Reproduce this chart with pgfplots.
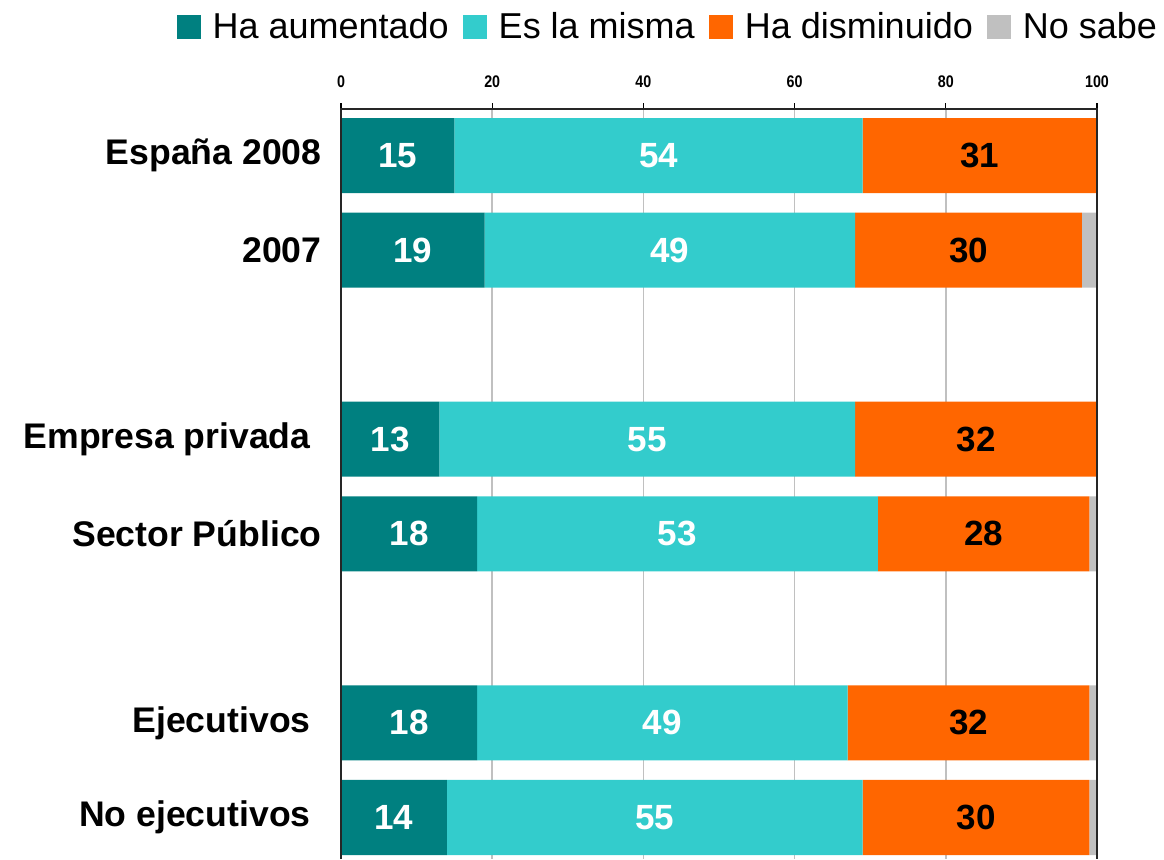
\documentclass[border=0pt]{standalone}
\usepackage{fontspec}
\setmainfont{Liberation Sans}
\usepackage{graphicx}
\usepackage{pgfplots}
\pgfplotsset{compat=1.18}
\definecolor{cteal}{HTML}{008080}
\definecolor{ccyan}{HTML}{33CCCC}
\definecolor{corange}{HTML}{FF6600}
\definecolor{cgray}{HTML}{C0C0C0}
\begin{document}
\begin{tikzpicture}
\begin{axis}[
  scale only axis, width=378pt, height=375pt,
  at={(170.5pt,0pt)}, anchor=south west,
  xbar stacked, bar width=37.5pt,
  legend image code/.code={\fill[#1] (0pt,-6pt) rectangle (12pt,6pt);},
  xmin=0, xmax=100, ymin=-0.492, ymax=7.439, y dir=reverse,
  axis line style={draw=none},
  xtick={0,20,40,60,80,100}, xtick pos=upper, xticklabel pos=upper,
  xtick align=outside, major tick length=3pt,
  tick style={black, line width=0.6pt},
  /pgf/number format/assume math mode=true,
  xticklabel={\scalebox{0.85}[1]{\pgfmathprintnumber{\tick}}},
  xticklabel style={font=\bfseries\fontsize{8.4}{10}\selectfont, inner sep=0pt, yshift=7.5pt},
  ytick={0,1,3,4,6,7},
  yticklabels={España 2008, 2007, Empresa privada\hspace*{5.5pt}, Sector Público, Ejecutivos\hspace*{5.5pt}, No ejecutivos\hspace*{5.5pt}},
  ytick style={draw=none},
  yticklabel style={font=\bfseries\fontsize{17.8}{20}\selectfont, inner sep=0pt, xshift=-9.5pt},
  xmajorgrids, grid style={cgray, line width=0.75pt},
  nodes near coords style={anchor=center, font=\bfseries\fontsize{17.5}{20}\selectfont},
  legend style={draw=none, fill=none, at={(-0.218,1.109)}, anchor=west, legend columns=-1, inner sep=0pt,
    font=\fontsize{18}{20}\selectfont,
    /tikz/every odd column/.append style={column sep=4pt},
    /tikz/every even column/.append style={column sep=5pt}},
]
\addplot[fill=cteal, draw=none, nodes near coords, every node near coord/.append style={text=white}]
  coordinates {(15,0) (19,1) (13,3) (18,4) (18,6) (14,7)};
\addlegendentry{Ha aumentado}
\addplot[fill=ccyan, draw=none, nodes near coords, every node near coord/.append style={text=white}]
  coordinates {(54,0) (49,1) (55,3) (53,4) (49,6) (55,7)};
\addlegendentry{Es la misma}
\addplot[fill=corange, draw=none, nodes near coords, every node near coord/.append style={text=black}]
  coordinates {(31,0) (30,1) (32,3) (28,4) (32,6) (30,7)};
\addlegendentry{Ha disminuido}
\addplot[fill=cgray, draw=none]
  coordinates {(0,0) (2,1) (0,3) (1,4) (1,6) (1,7)};
\addlegendentry{No sabe}
\end{axis}
\draw[line width=1pt, black!85] (current axis.south west) -- (current axis.north west) -- (current axis.north east) -- (current axis.south east);
\pgfresetboundingbox
\path[use as bounding box] (0,0) rectangle (582pt,429.5pt);
\end{tikzpicture}
\end{document}
